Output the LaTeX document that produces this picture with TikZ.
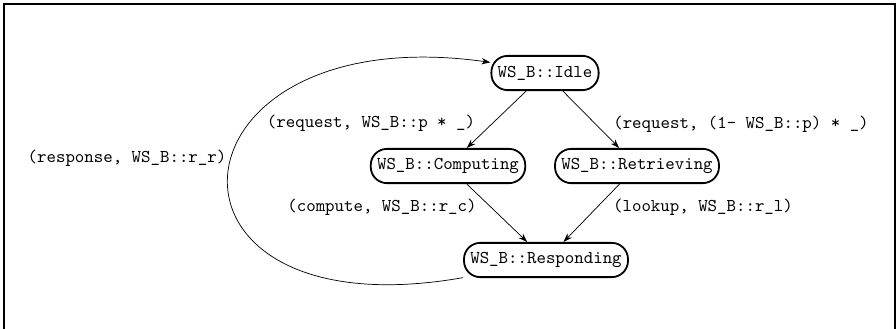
\documentclass[tikz,border=0pt]{standalone}
\usepackage{tikz}
\usetikzlibrary{arrows.meta, positioning}

\begin{document}
\begin{tikzpicture}[
  x=0.555pt, y=0.555pt,
  state/.style={draw, line width=1pt, rounded corners=9pt, minimum height=19pt, inner xsep=3.5pt, font=\ttfamily},
  lbl/.style={font=\ttfamily, inner sep=0pt},
  trans/.style={-{Stealth[length=5pt, width=3.5pt]}, thin}
]
  \useasboundingbox (0,0) rectangle (896,-328);
  \draw[line width=0.8pt] (4,-4) rectangle (895,-340);

  % states
  \node[state] (idle) at (545,-73) {WS\_B::Idle};
  \node[state] (comp) at (448,-166) {WS\_B::Computing};
  \node[state] (retr) at (637,-166) {WS\_B::Retrieving};
  \node[state] (resp) at (546,-260) {WS\_B::Responding};

  % transition labels
  \node[lbl] (lreqc) at (371,-123) {(request, WS\_B::p * \_)};
  \node[lbl] (lreqr) at (741,-124) {(request, (1- WS\_B::p) * \_)};
  \node[lbl] (lcomp) at (382,-207) {(compute, WS\_B::r\_c)};
  \node[lbl] (llook) at (703,-207) {(lookup, WS\_B::r\_l)};
  \node[lbl] (lresp) at (127,-158) {(response, WS\_B::r\_r)};

  \draw[trans] (idle) -- (comp);
  \draw[trans] (idle) -- (retr);
  \draw[trans] (comp) -- (resp);
  \draw[trans] (retr) -- (resp);
  \draw[trans] (resp.192) to[out=190, in=172, looseness=3.95] (idle.169);
\end{tikzpicture}
\end{document}
